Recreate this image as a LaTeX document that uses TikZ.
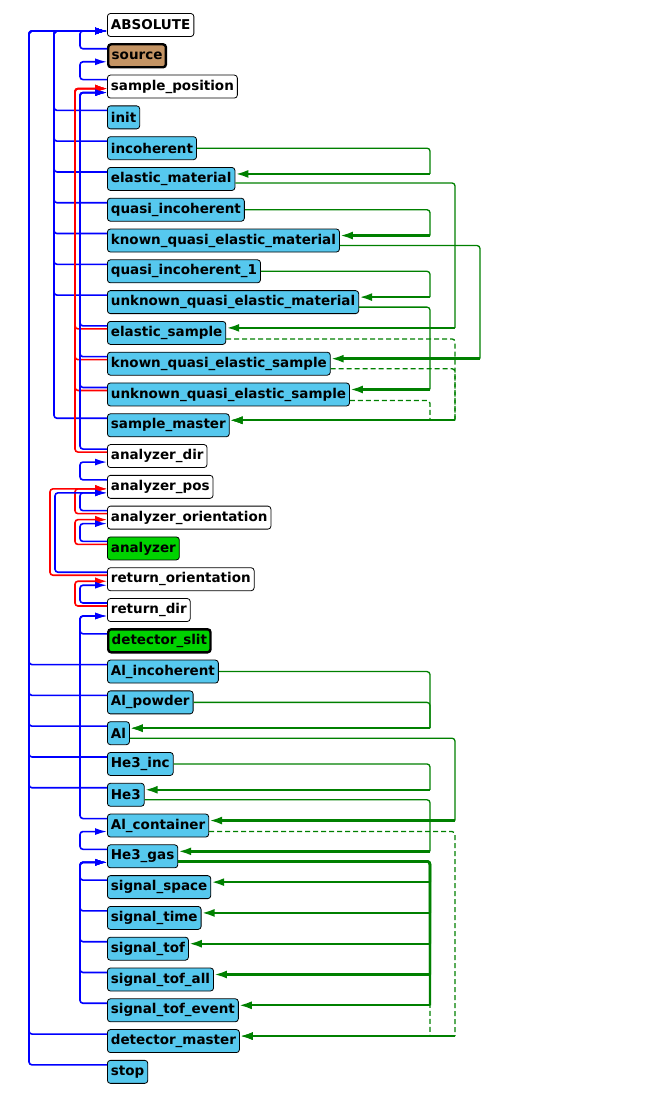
\documentclass[tikz,border=0pt]{standalone}
\usepackage{fontspec}
\setmainfont{DejaVu Sans}
\usetikzlibrary{calc,arrows.meta}
\definecolor{nb}{RGB}{86,200,238}
\definecolor{nbr}{RGB}{196,148,100}
\definecolor{ngr}{RGB}{0,210,0}
\definecolor{lg}{RGB}{0,128,0}
\newcommand\lk[5]{%
  \path #2 coordinate (lkA) #3 coordinate (lkB) (#4,0) coordinate (lkX);
  \draw[#1] (lkA) -- (lkX|-lkA) -- (lkX|-lkB) -- (lkB);}
\newcommand\gk[6]{%
  \path ($(#2.east)+(0,#5)$) coordinate (lkA) ($(#3.east)+(0,-5)$) coordinate (lkB) (#4,0) coordinate (lkX);
  \draw[#1,rounded corners=3pt] (lkA) -- (lkX|-lkA) -- (lkX|-lkB);
  \draw[lg,line width=2.4pt,-{Latex[length=13pt,width=8pt]},#6] (lkX|-lkB) -- (lkB);}
\newcommand\bk[3]{\lk{bl}{($(#1.west)+(0,-7)$)}{($(#2.west)+(0,6)$)}{#3}{}}
\newcommand\rk[3]{\lk{rd}{($(#1.west)+(0,-4)$)}{($(#2.west)+(0,2)$)}{#3}{}}
\begin{document}
\begin{tikzpicture}[x=1pt,y=-1pt,
  n/.style={draw=black,line width=0.8pt,rounded corners=3pt,anchor=west,minimum height=23pt,inner xsep=3.5pt,inner ysep=0pt,font=\fontsize{13.5}{14}\selectfont\bfseries,fill=nb},
  w/.style={n,fill=white},
  bl/.style={blue,line width=1.6pt,rounded corners=3pt,-{Latex[length=12pt,width=7pt]}},
  rd/.style={red,line width=1.6pt,rounded corners=3pt,-{Latex[length=12pt,width=8pt]}},
  gt/.style={lg,line width=1.3pt},
  gd/.style={lg,line width=1.3pt,dashed,dash pattern=on 5pt off 3pt}]
\useasboundingbox (0,0) rectangle (650,1098);
\def\Y#1{25+(#1-1)*30.79}
\node[w] (abs) at (107,{\Y{1}}) {ABSOLUTE};
\node[n,fill=nbr,line width=2.4pt] (src) at (107,{\Y{2}}) {source};
\node[w] (spos) at (107,{\Y{3}}) {sample\_position};
\node[n] (init) at (107,{\Y{4}}) {init};
\node[n] (inc) at (107,{\Y{5}}) {incoherent};
\node[n] (elm) at (107,{\Y{6}}) {elastic\_material};
\node[n] (qinc) at (107,{\Y{7}}) {quasi\_incoherent};
\node[n] (kqm) at (107,{\Y{8}}) {known\_quasi\_elastic\_material};
\node[n] (qinca) at (107,{\Y{9}}) {quasi\_incoherent\_1};
\node[n] (uqm) at (107,{\Y{10}}) {unknown\_quasi\_elastic\_material};
\node[n] (els) at (107,{\Y{11}}) {elastic\_sample};
\node[n] (kqs) at (107,{\Y{12}}) {known\_quasi\_elastic\_sample};
\node[n] (uqs) at (107,{\Y{13}}) {unknown\_quasi\_elastic\_sample};
\node[n] (smas) at (107,{\Y{14}}) {sample\_master};
\node[w] (adir) at (107,{\Y{15}}) {analyzer\_dir};
\node[w] (apos) at (107,{\Y{16}}) {analyzer\_pos};
\node[w] (aori) at (107,{\Y{17}}) {analyzer\_orientation};
\node[n,fill=ngr] (ana) at (107,{\Y{18}}) {analyzer};
\node[w] (rori) at (107,{\Y{19}}) {return\_orientation};
\node[w] (rdir) at (107,{\Y{20}}) {return\_dir};
\node[n,fill=ngr,line width=2.4pt] (dslit) at (107,{\Y{21}}) {detector\_slit};
\node[n] (alinc) at (107,{\Y{22}}) {Al\_incoherent};
\node[n] (alpow) at (107,{\Y{23}}) {Al\_powder};
\node[n] (al) at (107,{\Y{24}}) {Al};
\node[n] (heinc) at (107,{\Y{25}}) {He3\_inc};
\node[n] (he) at (107,{\Y{26}}) {He3};
\node[n] (alc) at (107,{\Y{27}}) {Al\_container};
\node[n] (hegas) at (107,{\Y{28}}) {He3\_gas};
\node[n] (ss) at (107,{\Y{29}}) {signal\_space};
\node[n] (st) at (107,{\Y{30}}) {signal\_time};
\node[n] (stof) at (107,{\Y{31}}) {signal\_tof};
\node[n] (stall) at (107,{\Y{32}}) {signal\_tof\_all};
\node[n] (stev) at (107,{\Y{33}}) {signal\_tof\_event};
\node[n] (dmas) at (107,{\Y{34}}) {detector\_master};
\node[n] (stop) at (107,{\Y{35}}) {stop};
% blue / red references
\foreach \c in {alinc,alpow,al,heinc,he,dmas,stop} {\bk{\c}{abs}{29}}
\foreach \c in {init,inc,elm,qinc,kqm,qinca,uqm,smas} {\bk{\c}{abs}{54}}
\bk{src}{abs}{80}
\bk{spos}{src}{80}
\foreach \c in {els,kqs,uqs,adir} {\rk{\c}{spos}{75}\bk{\c}{spos}{80}}
\bk{apos}{adir}{80}
\rk{aori}{apos}{75}\bk{aori}{apos}{80}
\rk{ana}{aori}{75}\bk{ana}{aori}{80}
\rk{rori}{apos}{50}\bk{rori}{apos}{55}
\rk{rdir}{rori}{75}\bk{rdir}{rori}{80}
\bk{dslit}{rdir}{80}\bk{alc}{rdir}{80}
\bk{hegas}{alc}{80}
\foreach \c in {ss,st,stof,stall,stev} {\bk{\c}{hegas}{80}}
% green
\gk{gt}{inc}{elm}{430}{0}{}
\gk{gt}{elm}{els}{455}{4}{}
\gk{gt}{qinc}{kqm}{430}{0}{}
\gk{gt}{kqm}{kqs}{480}{5}{}
\gk{gt}{qinca}{uqm}{430}{0}{}
\gk{gt}{uqm}{uqs}{430}{5}{}
\gk{gd}{els}{smas}{455}{6}{}
\gk{gd}{kqs}{smas}{455}{5}{}
\gk{gd}{uqs}{smas}{430}{6}{}
\gk{gt}{alinc}{al}{430}{0}{}
\gk{gt}{alpow}{al}{430}{0}{}
\gk{gt}{al}{alc}{455}{5}{}
\gk{gt}{heinc}{he}{430}{0}{}
\gk{gt}{he}{hegas}{430}{5}{}
\gk{gd}{alc}{dmas}{455}{6}{}
\foreach \c in {ss,st,stof,stall,stev} {\gk{lg,line width=2.4pt}{hegas}{\c}{430}{5}{}}
\gk{gd}{hegas}{dmas}{430}{5}{}
\end{tikzpicture}
\end{document}
